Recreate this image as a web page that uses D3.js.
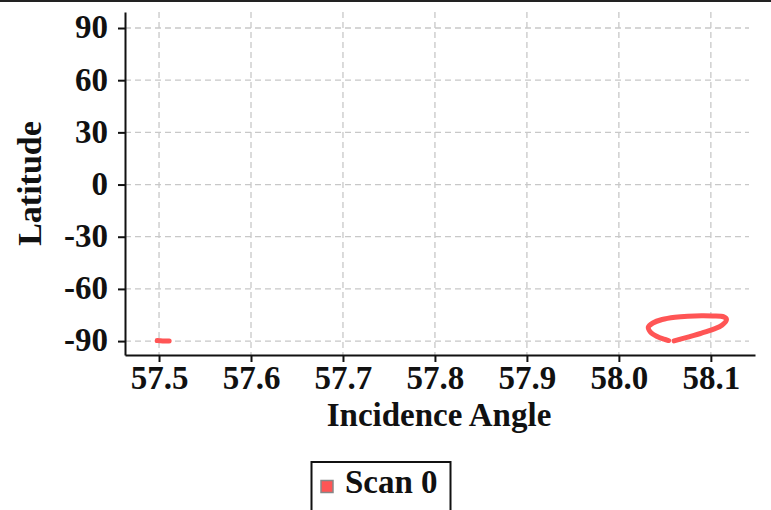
<!DOCTYPE html>
<html>
<head>
<meta charset="utf-8">
<script src="https://cdn.jsdelivr.net/npm/d3@7"></script>
<style>
  html, body { margin: 0; padding: 0; background: #fff; }
  svg { display: block; }
  text { font-family: "Liberation Serif", "Times New Roman", serif; font-weight: bold; fill: #111; }
</style>
</head>
<body>
<script>
// Scan 0 ground track: incidence angle (deg) vs latitude (deg)
const seriesName = "Scan 0";
const segmentA_angle = [57.498, 57.504, 57.511];
const segmentA_lat   = [-89.7, -89.9, -90.0];
const segmentB_angle = [58.060, 58.075, 58.090, 58.103, 58.112, 58.117, 58.114, 58.102, 58.090, 58.075, 58.061, 58.047, 58.037, 58.032, 58.034, 58.041, 58.049, 58.054];
const segmentB_lat   = [-89.9, -87.7, -85.4, -83.1, -80.9, -77.6, -76.1, -75.6, -75.5, -75.7, -76.3, -77.6, -79.6, -82.0, -84.6, -87.2, -88.9, -89.7];
const xTicks = [57.5, 57.6, 57.7, 57.8, 57.9, 58.0, 58.1];
const yTicks = [90, 60, 30, 0, -30, -60, -90];
const xLabel = "Incidence Angle";
const yLabel = "Latitude";
const lineColor = "#ff5555";

const W = 771, H = 510;
const plotLeft = 125, plotRight = 755, plotTop = 12, plotBottom = 355;

const svg = d3.select("body").append("svg").attr("width", W).attr("height", H);

const x = d3.scaleLinear().domain([57.463, 58.148]).range([plotLeft, plotRight]);
const y = d3.scaleLinear().domain([-98.0, 99.2]).range([plotBottom, plotTop]);

// top rule
svg.append("line").attr("x1", 0).attr("x2", W).attr("y1", 1).attr("y2", 1)
  .attr("stroke", "#222").attr("stroke-width", 2);

// grid
const grid = svg.append("g").attr("stroke", "#c8c8c8").attr("stroke-width", 1.3)
  .attr("stroke-dasharray", "6,4");
grid.selectAll(".gx").data(xTicks).join("line")
  .attr("x1", d => x(d)).attr("x2", d => x(d)).attr("y1", plotTop).attr("y2", plotBottom);
grid.selectAll(".gy").data(yTicks).join("line")
  .attr("x1", plotLeft).attr("x2", plotRight - 6).attr("y1", d => y(d)).attr("y2", d => y(d));

// axes (plain hyphen for negative latitudes)
const xAxis = d3.axisBottom(x).tickValues(xTicks).tickFormat(d => d.toFixed(1)).tickSize(7).tickSizeOuter(0).tickPadding(5);
const yAxis = d3.axisLeft(y).tickValues(yTicks).tickFormat(d => String(d)).tickSize(7).tickSizeOuter(0).tickPadding(10);

const gx = svg.append("g").attr("transform", `translate(0,${plotBottom})`).call(xAxis);
const gy = svg.append("g").attr("transform", `translate(${plotLeft},0)`).call(yAxis);
[gx, gy].forEach(g => {
  g.attr("font-family", null).attr("font-size", null);
  g.select(".domain").attr("stroke", "#111").attr("stroke-width", 2);
  g.selectAll(".tick line").attr("stroke", "#111").attr("stroke-width", 2);
  g.selectAll("text").attr("font-size", 33).attr("fill", "#111");
});
gx.selectAll(".tick text").attr("dy", "0.68em");
gy.selectAll(".tick text").attr("dy", "0.3em");

// axis titles
svg.append("text").attr("x", (plotLeft + plotRight) / 2 - 1).attr("y", 426)
  .attr("text-anchor", "middle").attr("font-size", 33).text(xLabel);
svg.append("text").attr("transform", `translate(41,${(plotTop + plotBottom) / 2}) rotate(-90)`)
  .attr("text-anchor", "middle").attr("font-size", 34).text(yLabel);

// series
const line = d3.line().x(d => x(d[0])).y(d => y(d[1])).curve(d3.curveCatmullRom);
const plot = svg.append("g");
[[segmentA_angle, segmentA_lat], [segmentB_angle, segmentB_lat]].forEach(([a, l]) => {
  plot.append("path").datum(a.map((v, i) => [v, l[i]]))
    .attr("d", line).attr("fill", "none").attr("stroke", lineColor)
    .attr("stroke-width", 5).attr("stroke-linecap", "round").attr("stroke-linejoin", "round");
});

// legend
const lg = svg.append("g");
lg.append("rect").attr("x", 311.5).attr("y", 462).attr("width", 139).attr("height", 60)
  .attr("fill", "#fff").attr("stroke", "#111").attr("stroke-width", 2);
lg.append("rect").attr("x", 321).attr("y", 480.5).attr("width", 12).attr("height", 12)
  .attr("fill", lineColor).attr("stroke", "#888").attr("stroke-width", 1.5);
lg.append("text").attr("x", 345).attr("y", 493).attr("font-size", 33).text(seriesName);
</script>
</body>
</html>
